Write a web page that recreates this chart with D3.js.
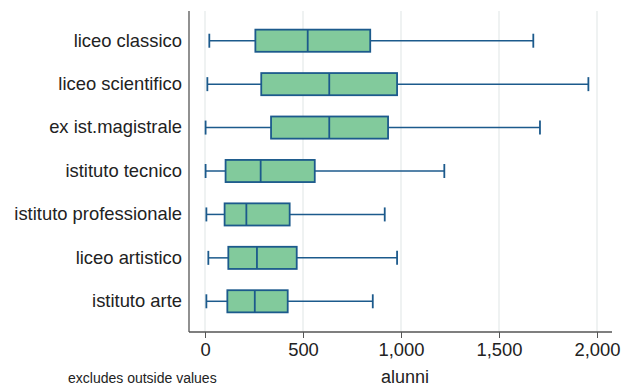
<!DOCTYPE html>
<html>
<head>
<meta charset="utf-8">
<script src="https://cdn.jsdelivr.net/npm/d3@7"></script>
<style>
  html, body { margin: 0; padding: 0; background: #fff; }
  svg { display: block; font-family: "Liberation Sans", Arial, sans-serif; }
</style>
</head>
<body>
<svg id="chart" width="623" height="387"></svg>
<script>
// School types and the five-number summary of pupils per school
const categories = ["liceo classico", "liceo scientifico", "ex ist.magistrale", "istituto tecnico",
                    "istituto professionale", "liceo artistico", "istituto arte"];
const lowerWhisker = [22, 12, 3, 3, 7, 17, 7];
const q1 = [257, 287, 337, 105, 100, 119, 114];
const median = [524, 634, 634, 284, 211, 265, 254];
const q3 = [843, 980, 934, 560, 432, 468, 422];
const upperWhisker = [1675, 1956, 1709, 1221, 917, 980, 856];
const xTicks = [0, 500, 1000, 1500, 2000];

const rows = categories.map((c, i) => ({
  cat: c, lo: lowerWhisker[i], q1: q1[i], med: median[i], q3: q3[i], hi: upperWhisker[i]
}));

const svg = d3.select("#chart");
const plot = { left: 189, right: 612, top: 11, bottom: 332 };

const x = d3.scaleLinear().domain([0, 2000]).range([205, 597]);
const y = d3.scaleBand().domain(categories).range([19, 323]).paddingInner(0.49).paddingOuter(0.245);

const stroke = "#1c5a8c";
const fill = "#82ca9c";

// vertical grid lines
svg.append("g").selectAll("line").data(xTicks).join("line")
  .attr("x1", d => x(d)).attr("x2", d => x(d))
  .attr("y1", plot.top).attr("y2", plot.bottom)
  .attr("stroke", "#eaeeee").attr("stroke-width", 1.5);

// boxes
const g = svg.append("g").selectAll("g").data(rows).join("g");
const cy = d => y(d.cat) + y.bandwidth() / 2;
const capH = 14;

g.append("line")
  .attr("x1", d => x(d.lo)).attr("x2", d => x(d.q1))
  .attr("y1", cy).attr("y2", cy)
  .attr("stroke", stroke).attr("stroke-width", 1.5);
g.append("line")
  .attr("x1", d => x(d.q3)).attr("x2", d => x(d.hi))
  .attr("y1", cy).attr("y2", cy)
  .attr("stroke", stroke).attr("stroke-width", 1.5);
g.append("line")
  .attr("x1", d => x(d.lo)).attr("x2", d => x(d.lo))
  .attr("y1", d => cy(d) - capH / 2).attr("y2", d => cy(d) + capH / 2)
  .attr("stroke", stroke).attr("stroke-width", 1.8);
g.append("line")
  .attr("x1", d => x(d.hi)).attr("x2", d => x(d.hi))
  .attr("y1", d => cy(d) - capH / 2).attr("y2", d => cy(d) + capH / 2)
  .attr("stroke", stroke).attr("stroke-width", 1.8);
g.append("rect")
  .attr("x", d => x(d.q1)).attr("width", d => x(d.q3) - x(d.q1))
  .attr("y", d => y(d.cat)).attr("height", y.bandwidth())
  .attr("fill", fill).attr("stroke", stroke).attr("stroke-width", 1.8);
g.append("line")
  .attr("x1", d => x(d.med)).attr("x2", d => x(d.med))
  .attr("y1", d => y(d.cat)).attr("y2", d => y(d.cat) + y.bandwidth())
  .attr("stroke", stroke).attr("stroke-width", 1.8);

// category axis
const yAxis = svg.append("g").attr("transform", `translate(${plot.left},0)`)
  .call(d3.axisLeft(y).tickSize(0).tickPadding(7));
yAxis.select(".domain").attr("d", `M0,${plot.top}V${plot.bottom}`).attr("stroke", "#555").attr("stroke-width", 1.3);
yAxis.selectAll("text").attr("font-size", 18.4).attr("fill", "#222")
  .attr("font-family", "'Liberation Sans', Arial, sans-serif");

// value axis
const xAxis = svg.append("g").attr("transform", `translate(0,${plot.bottom})`)
  .call(d3.axisBottom(x).tickValues(xTicks).tickSize(6).tickPadding(5)
    .tickFormat(d3.format(",")));
xAxis.select(".domain").attr("d", `M${plot.left},0H${plot.right}`).attr("stroke", "#555").attr("stroke-width", 1.3);
xAxis.selectAll(".tick line").attr("stroke", "#555").attr("stroke-width", 1);
xAxis.selectAll("text").attr("font-size", 18.4).attr("fill", "#222")
  .attr("font-family", "'Liberation Sans', Arial, sans-serif");

// titles and note
svg.append("text").attr("x", (x(0) + x(2000)) / 2 + 4).attr("y", 383)
  .attr("text-anchor", "middle").attr("font-size", 18).attr("fill", "#222").text("alunni");
svg.append("text").attr("x", 68).attr("y", 383)
  .attr("font-size", 14).attr("fill", "#222").text("excludes outside values");
</script>
</body>
</html>
